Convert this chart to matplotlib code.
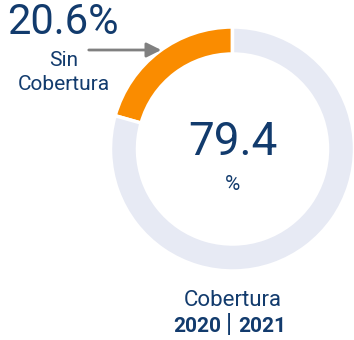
import matplotlib
matplotlib.use("Agg")
import matplotlib.pyplot as plt

plt.rcParams['font.family'] = ['Roboto', 'DejaVu Sans']

# coverage split, percent
labels = ["Sin Cobertura", "Cobertura"]
shares = [20.6, 79.4]
colors = ["#FA8C00", "#E7EAF4"]
years = ["2020", "2021"]

NAVY = "#123B6D"
W, H = 354, 340

fig = plt.figure(figsize=(W / 100, H / 100), dpi=100)
ax = fig.add_axes([0, 0, 1, 1])

# ring, starting at 12 o'clock and running counter-clockwise
cx, cy, r = 232.5, H - 149, 122
ax.pie(shares, colors=colors, startangle=90, counterclock=True,
       center=(cx, cy), radius=r,
       wedgeprops=dict(width=27, edgecolor="white", linewidth=2.5))

ax.set_xlim(0, W)
ax.set_ylim(0, H)
ax.set_aspect("equal")
ax.axis("off")

# centre value
ax.text(cx, H - 142, f"{shares[1]:.1f}", ha="center", va="center",
        fontsize=33, color=NAVY)
ax.text(cx, H - 184, "%", ha="center", va="center", fontsize=15,
        color=NAVY)

# callout for the smaller slice
ax.text(63, H - 22, f"{shares[0]:.1f}%", ha="center", va="center",
        fontsize=30, color=NAVY)
ax.text(64, H - 61, "Sin", ha="center", va="center",
        fontsize=15, color=NAVY)
ax.text(64, H - 85, "Cobertura", ha="center", va="center",
        fontsize=15, color=NAVY)
ax.annotate("", xy=(164, H - 50), xytext=(86, H - 50),
            arrowprops=dict(arrowstyle="-|>", color="#808080", lw=2,
                            mutation_scale=22))

# caption under the ring
ax.text(233, H - 300, labels[1], ha="center", va="center",
        fontsize=16, color=NAVY)
ax.text(221, H - 326, years[0], ha="right", va="center",
        fontsize=15, fontweight="bold", color=NAVY)
ax.text(229, H - 325, "|", ha="center", va="center",
        fontsize=18, color=NAVY)
ax.text(238, H - 326, years[1], ha="left", va="center",
        fontsize=15, fontweight="bold", color=NAVY)

fig.savefig("out.png", dpi=100)
